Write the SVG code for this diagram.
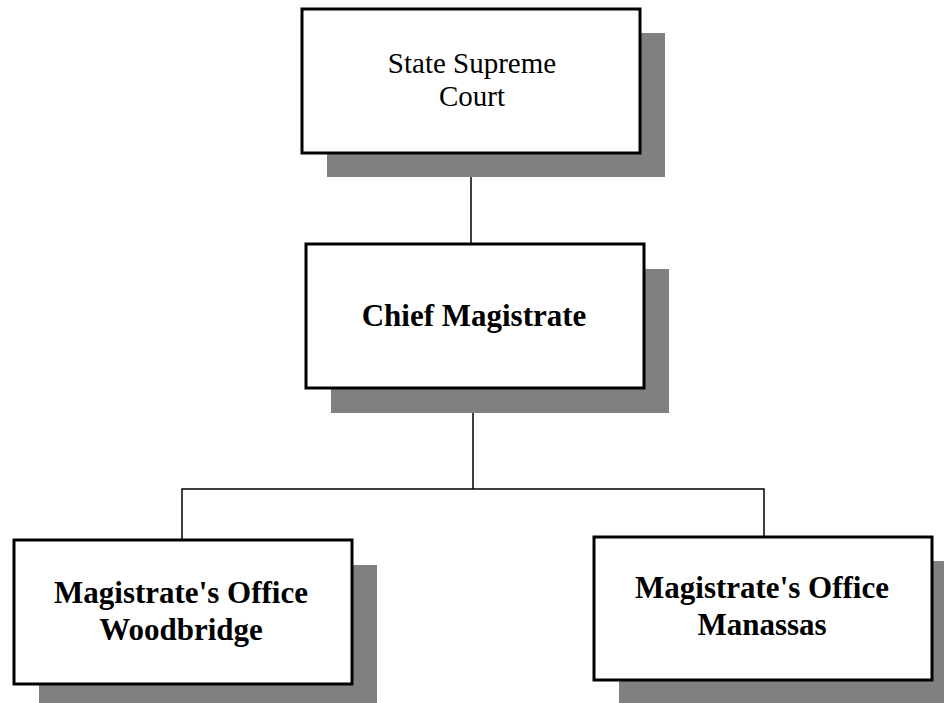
<svg xmlns="http://www.w3.org/2000/svg" width="944" height="703" viewBox="0 0 944 703">
  <style>
    .shadow { fill: #808080; }
    .box { fill: #ffffff; stroke: #000000; stroke-width: 3; }
    .link { fill: none; stroke: #000000; stroke-width: 1.5; }
    .reg { font-family: "Liberation Serif", "Times New Roman", serif; font-size: 29px; fill: #000; text-anchor: middle; }
    .bold { font-family: "Liberation Serif", "Times New Roman", serif; font-size: 31px; font-weight: bold; fill: #000; text-anchor: middle; }
  </style>
  <rect width="944" height="703" fill="#ffffff"/>

  <!-- connectors -->
  <g id="connectors">
    <line class="link" x1="471" y1="153" x2="471" y2="244"/>
    <line class="link" x1="473" y1="388" x2="473" y2="489"/>
    <polyline class="link" points="182,539 182,489 764,489 764,537"/>
  </g>

  <g id="state-supreme-court">
    <rect class="shadow" x="327" y="33" width="338" height="144"/>
    <rect class="box" x="302" y="9" width="338" height="144"/>
    <text class="reg" x="472" y="73">State Supreme</text>
    <text class="reg" x="472" y="106">Court</text>
  </g>

  <g id="chief-magistrate">
    <rect class="shadow" x="331" y="269" width="338" height="144"/>
    <rect class="box" x="306" y="244" width="338" height="144"/>
    <text class="bold" x="474" y="326">Chief Magistrate</text>
  </g>

  <g id="office-woodbridge">
    <rect class="shadow" x="39" y="565" width="338" height="144"/>
    <rect class="box" x="14" y="540" width="338" height="144"/>
    <text class="bold" x="181" y="603">Magistrate's Office</text>
    <text class="bold" x="181" y="640">Woodbridge</text>
  </g>

  <g id="office-manassas">
    <rect class="shadow" x="619" y="561" width="338" height="144"/>
    <rect class="box" x="594" y="537" width="338" height="143"/>
    <text class="bold" x="762" y="598">Magistrate's Office</text>
    <text class="bold" x="762" y="635">Manassas</text>
  </g>
</svg>
